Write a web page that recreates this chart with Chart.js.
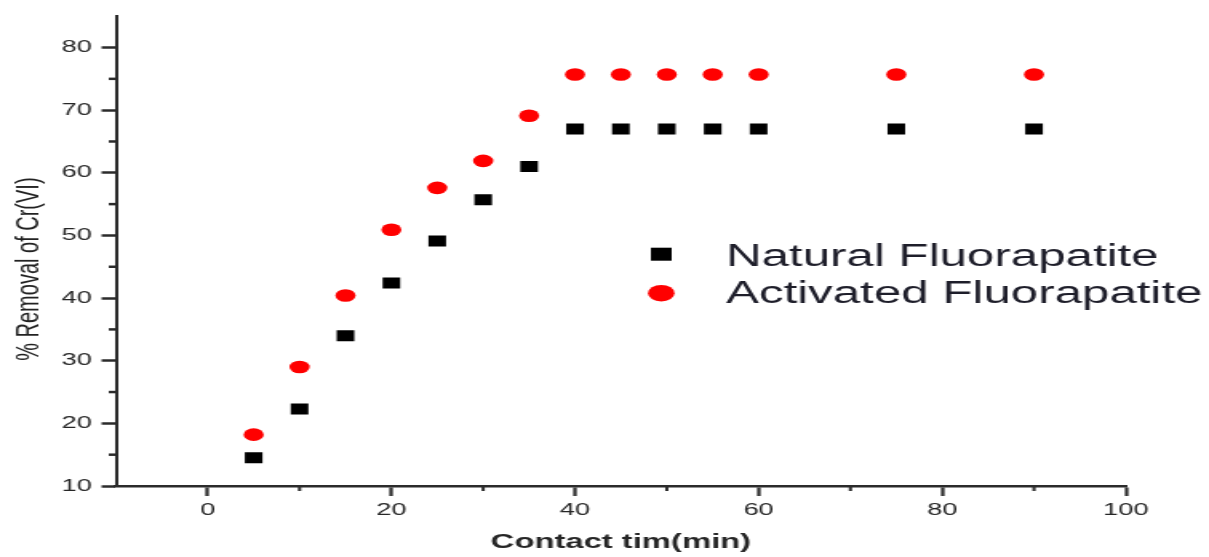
<!DOCTYPE html>
<html>
<head>
<meta charset="utf-8">
<script src="https://cdn.jsdelivr.net/npm/chart.js@4.4.1/dist/chart.umd.min.js"></script>
<style>
html, body { margin: 0; padding: 0; background: #fff; overflow: hidden; }
/* the original figure is stretched sideways, so the whole canvas is too */
#wrap { width: 756px; height: 557px; transform: scaleX(1.5992); transform-origin: 0 0; }
</style>
</head>
<body>
<div id="wrap"><canvas id="chart" width="756" height="557"></canvas></div>
<script>
const contactTimes = [5, 10, 15, 20, 25, 30, 35, 40, 45, 50, 55, 60, 75, 90];
const naturalRemoval = [14.5, 22.3, 34.0, 42.4, 49.1, 55.7, 61.0, 67.0, 67.0, 67.0, 67.0, 67.0, 67.0, 67.0];
const activatedRemoval = [18.2, 29.0, 40.4, 50.9, 57.6, 61.9, 69.1, 75.7, 75.7, 75.7, 75.7, 75.7, 75.7, 75.7];
const seriesNames = ['Natural Fluorapatite', 'Activated Fluorapatite'];
const xMajorTicks = [0, 20, 40, 60, 80, 100];
const xMinorTicks = [10, 30, 50, 70, 90];
const yMajorTicks = [10, 20, 30, 40, 50, 60, 70, 80];
const yMinorTicks = [15, 25, 35, 45, 55, 65, 75];
const xTitle = 'Contact tim(min)';
const yTitle = '% Removal of Cr(VI)';

const axisColor = '#2b2b2b';
const textColor = '#262626';
Chart.defaults.font.family = '"Liberation Sans", Arial, sans-serif';

const toPoints = (ys) => contactTimes.map((x, i) => ({ x: x, y: ys[i] }));

// minor ticks, y-axis title and the in-plot legend
const extras = {
    id: 'extras',
    afterDraw(chart) {
        const ctx = chart.ctx;
        const area = chart.chartArea;
        const xs = chart.scales.x;
        const ys = chart.scales.y;
        ctx.save();
        ctx.strokeStyle = axisColor;
        ctx.lineWidth = 2;
        xMinorTicks.forEach(v => {
            const px = xs.getPixelForValue(v);
            ctx.beginPath();
            ctx.moveTo(px, area.bottom);
            ctx.lineTo(px, area.bottom + 5);
            ctx.stroke();
        });
        ctx.lineWidth = 2.5;
        yMinorTicks.forEach(v => {
            const py = ys.getPixelForValue(v);
            ctx.beginPath();
            ctx.moveTo(area.left - 4.5, py);
            ctx.lineTo(area.left, py);
            ctx.stroke();
        });

        ctx.fillStyle = '#222';
        ctx.font = '20px "Liberation Sans", Arial, sans-serif';
        ctx.textAlign = 'center';
        ctx.textBaseline = 'middle';
        ctx.translate(area.left - 54.5, (area.top + area.bottom) / 2 + 18);
        ctx.rotate(-Math.PI / 2);
        ctx.fillText(yTitle, 0, 0);
        ctx.restore();

        ctx.save();
        const mx = area.left + 341;
        const tx = area.left + 381.5;
        ctx.fillStyle = '#000';
        ctx.fillRect(mx - 6.5, area.top + 238 - 6.5, 13, 13);
        ctx.fillStyle = '#ff0000';
        ctx.beginPath();
        ctx.arc(mx, area.top + 277, 8.3, 0, Math.PI * 2);
        ctx.fill();
        ctx.fillStyle = '#1e1e2a';
        ctx.font = '30.8px "Liberation Sans", Arial, sans-serif';
        ctx.textAlign = 'left';
        ctx.textBaseline = 'alphabetic';
        ctx.fillText(seriesNames[0], tx, area.top + 250);
        ctx.fillText(seriesNames[1], tx, area.top + 287);
        ctx.restore();
    }
};

new Chart(document.getElementById('chart'), {
    type: 'scatter',
    data: {
        datasets: [
            {
                label: seriesNames[0],
                data: toPoints(naturalRemoval),
                pointStyle: 'rect',
                pointRadius: 7.8,
                backgroundColor: '#000',
                borderWidth: 0
            },
            {
                label: seriesNames[1],
                data: toPoints(activatedRemoval),
                pointStyle: 'circle',
                pointRadius: 6.3,
                backgroundColor: '#ff0000',
                borderWidth: 0
            }
        ]
    },
    options: {
        responsive: false,
        animation: false,
        events: [],
        layout: { padding: { top: 15, right: 52, bottom: 0, left: 0 } },
        plugins: {
            legend: { display: false },
            tooltip: { enabled: false }
        },
        scales: {
            x: {
                type: 'linear',
                min: -10,
                max: 100,
                afterBuildTicks: (axis) => { axis.ticks = xMajorTicks.map(v => ({ value: v })); },
                afterFit: (axis) => { axis.height = 71; },
                grid: { drawOnChartArea: false, tickLength: 10, tickWidth: 2.2, tickColor: axisColor },
                border: { color: axisColor, width: 2.5 },
                ticks: { color: textColor, font: { size: 17 }, padding: 4, maxRotation: 0 },
                title: {
                    display: true,
                    text: xTitle,
                    color: textColor,
                    font: { size: 20.5, weight: 'bold' },
                    padding: { top: 0, bottom: 2 }
                }
            },
            y: {
                type: 'linear',
                min: 10,
                max: 85,
                afterBuildTicks: (axis) => { axis.ticks = yMajorTicks.map(v => ({ value: v })); },
                afterFit: (axis) => { axis.width = 72.5; },
                grid: { drawOnChartArea: false, tickLength: 9, tickWidth: 2.5, tickColor: axisColor },
                border: { color: axisColor, width: 2 },
                ticks: { color: textColor, font: { size: 17 }, padding: 6 }
            }
        }
    },
    plugins: [extras]
});
</script>
</body>
</html>
